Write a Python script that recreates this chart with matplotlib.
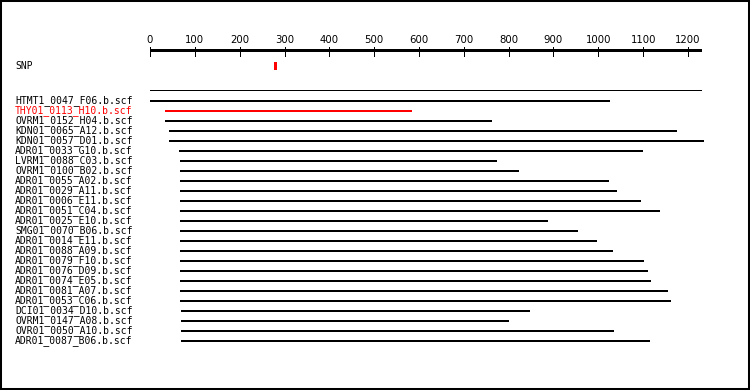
from matplotlib import pyplot as plt
from matplotlib import transforms

# reads aligned against the reference sequence
reads = ["HTMT1_0047_F06.b.scf", "THY01_0113_H10.b.scf", "OVRM1_0152_H04.b.scf",
	"KDN01_0065_A12.b.scf", "KDN01_0057_D01.b.scf", "ADR01_0033_G10.b.scf",
	"LVRM1_0088_C03.b.scf", "OVRM1_0100_B02.b.scf", "ADR01_0055_A02.b.scf",
	"ADR01_0029_A11.b.scf", "ADR01_0006_E11.b.scf", "ADR01_0051_C04.b.scf",
	"ADR01_0025_E10.b.scf", "SMG01_0070_B06.b.scf", "ADR01_0014_E11.b.scf",
	"ADR01_0088_A09.b.scf", "ADR01_0079_F10.b.scf", "ADR01_0076_D09.b.scf",
	"ADR01_0074_E05.b.scf", "ADR01_0081_A07.b.scf", "ADR01_0053_C06.b.scf",
	"DCI01_0034_D10.b.scf", "OVRM1_0147_A08.b.scf", "OVR01_0050_A10.b.scf",
	"ADR01_0087_B06.b.scf"]
starts = [0, 34, 34, 42, 42, 65, 67, 67, 67, 67, 67, 67, 67, 67, 67, 67, 67, 67,
	67, 67, 67, 69, 69, 69, 69]
ends = [1026, 584, 763, 1175, 1236, 1100, 774, 823, 1024, 1042, 1095, 1138, 888,
	955, 997, 1033, 1102, 1111, 1117, 1155, 1162, 848, 801, 1035, 1115]
highlight = "THY01_0113_H10.b.scf"

snp_pos = 279
ref_len = 1229
ticks = [0, 100, 200, 300, 400, 500, 600, 700, 800, 900, 1000, 1100, 1200]

fig = plt.figure(figsize=(7.5, 3.9), dpi=100)
ax = fig.add_axes([0, 0, 1, 1])
ax.set_xlim(-334.6, 1338.3)
ax.set_ylim(28.9, -10.1)
ax.set_xticks([])
ax.set_yticks([])
for s in ax.spines.values():
	s.set_linewidth(2.9)
	s.set_color('black')

px = 0.72  # one pixel in points

# ruler
ax.hlines(-5.1, 0, ref_len, color='black', lw=3 * px, antialiased=False)
ax.vlines(ticks, -5.4, -4.5, color='black', lw=px, antialiased=False)
for t in ticks:
	ax.text(t, -5.8, str(t), ha='center', va='baseline', fontsize=7.3, family='DejaVu Sans')

# labels on the left, fixed pixel column
lab = transforms.blended_transform_factory(fig.transFigure, ax.transData)
ax.text(15 / 750, -3.55, "SNP", transform=lab, ha='left', va='center',
	fontsize=7, family='DejaVu Sans Mono')

# SNP marker
ax.vlines(snp_pos, -3.95, -3.2, color='red', lw=3 * px, antialiased=False)

# reference line
ax.hlines(-1.1, 0, ref_len, color='black', lw=px, antialiased=False)

# reads
for i, name in enumerate(reads):
	c = 'red' if name == highlight else 'black'
	ax.hlines(i, starts[i], ends[i], color=c, lw=2 * px, antialiased=False)
	ax.text(15 / 750, i, name, transform=lab, ha='left', va='center', color=c,
		fontsize=7, family='DejaVu Sans Mono')

fig.savefig('out.png', dpi=100)
